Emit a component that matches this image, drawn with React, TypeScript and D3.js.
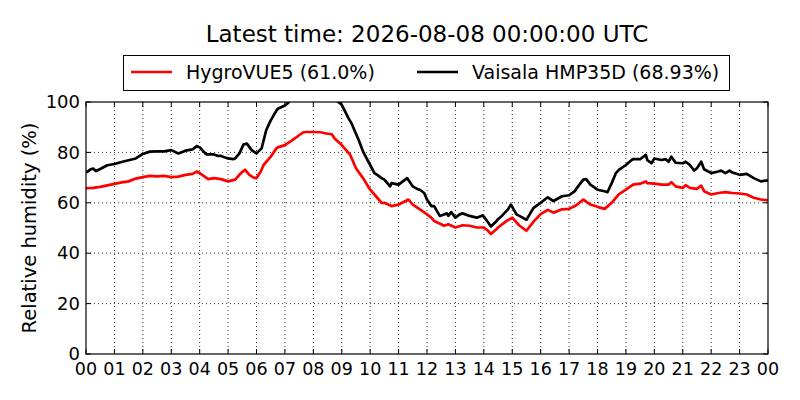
import React, { useEffect, useRef } from 'react';
import * as d3 from 'd3';

// [hour of day, relative humidity %]
const hygroVUE5: [number, number][] = [
  [0, 65.8], [0.25, 65.9], [0.5, 66.3], [0.75, 66.9], [1, 67.5], [1.25, 68.1], [1.5, 68.5],
  [1.75, 69.6], [2, 70.2], [2.25, 70.7], [2.5, 70.5], [2.75, 70.7], [3, 70.2], [3.25, 70.4],
  [3.5, 71.1], [3.75, 71.5], [3.9, 72.4], [4, 71.8], [4.2, 70.2], [4.3, 69.4], [4.5, 69.8],
  [4.75, 69.4], [5, 68.5], [5.25, 69.2], [5.45, 71.8], [5.6, 73.1], [5.75, 71.1], [5.9, 70.0],
  [6, 69.8], [6.15, 72.4], [6.25, 75.0], [6.5, 78.3], [6.7, 81.6], [6.75, 82.0], [7, 82.9],
  [7.25, 84.8], [7.5, 86.8], [7.65, 88.0], [7.75, 88.1], [8, 88.1], [8.25, 88.0], [8.5, 87.4],
  [8.65, 87.2], [8.75, 85.5], [9, 82.9], [9.2, 80.3], [9.3, 79.0], [9.5, 73.7], [9.75, 69.8],
  [10, 65.2], [10.25, 62.0], [10.4, 60.0], [10.5, 60.0], [10.75, 58.7], [11, 59.3], [11.25, 60.7],
  [11.35, 61.3], [11.5, 59.3], [11.75, 57.4], [12, 55.4], [12.15, 54.1], [12.25, 52.8],
  [12.5, 51.5], [12.6, 50.9], [12.75, 51.5], [13, 50.2], [13.25, 51.1], [13.5, 50.9],
  [13.75, 50.2], [14, 50.2], [14.15, 48.9], [14.25, 47.6], [14.45, 49.6], [14.5, 50.2],
  [14.8, 52.8], [15, 54.1], [15.25, 51.0], [15.5, 48.9], [15.75, 52.5], [16, 55.5],
  [16.25, 57.2], [16.45, 56.1], [16.5, 56.3], [16.75, 57.4], [17, 57.6], [17.25, 59.0],
  [17.5, 61.3], [17.75, 59.3], [18, 58.4], [18.25, 57.6], [18.5, 60.0], [18.75, 63.3],
  [19, 65.2], [19.25, 67.2], [19.5, 67.6], [19.7, 68.5], [19.75, 67.8], [20, 67.6],
  [20.25, 67.2], [20.5, 67.2], [20.6, 68.2], [20.75, 66.5], [21, 65.9], [21.1, 67.0],
  [21.25, 65.9], [21.5, 65.5], [21.65, 66.8], [21.75, 64.6], [22, 63.3], [22.25, 63.9],
  [22.5, 64.2], [22.75, 63.9], [23, 63.7], [23.25, 63.3], [23.5, 62.0], [23.75, 61.3], [24, 61.0],
];

const hmp35d: [number, number][] = [
  [0, 72.0], [0.15, 73.2], [0.25, 73.6], [0.35, 72.6], [0.5, 73.4], [0.7, 74.6], [0.75, 74.9],
  [1, 75.4], [1.25, 76.2], [1.5, 76.9], [1.75, 77.6], [2, 79.4], [2.25, 80.3], [2.5, 80.4],
  [2.75, 80.4], [3, 80.9], [3.25, 79.6], [3.5, 80.7], [3.75, 81.2], [3.9, 82.5], [4, 82.0],
  [4.2, 79.6], [4.25, 79.2], [4.5, 79.2], [4.65, 78.6], [4.75, 78.6], [5, 77.6], [5.18, 77.3],
  [5.25, 77.6], [5.4, 79.6], [5.54, 83.1], [5.66, 83.5], [5.83, 80.9], [6, 79.6], [6.18, 81.6],
  [6.34, 88.8], [6.5, 92.7], [6.7, 96.6], [6.75, 97.3], [7, 98.6], [7.1, 99.5], [7.25, 101.5],
  [7.5, 103], [7.75, 104], [8, 104], [8.25, 104], [8.5, 103], [8.75, 101.5], [8.88, 100],
  [9, 98.9], [9.25, 93.3], [9.35, 91.4], [9.5, 87.4], [9.6, 84.8], [9.75, 80.3], [10, 75.0],
  [10.15, 71.8], [10.25, 71.1], [10.4, 69.8], [10.5, 69.2], [10.7, 66.5], [10.75, 67.8],
  [11, 67.2], [11.15, 68.5], [11.3, 69.8], [11.5, 66.5], [11.7, 65.2], [11.75, 65.2],
  [11.9, 63.9], [12, 61.3], [12.15, 58.7], [12.25, 58.7], [12.45, 54.8], [12.5, 55.0],
  [12.7, 55.8], [12.75, 54.8], [12.85, 56.3], [13, 54.1], [13.15, 55.4], [13.25, 55.8],
  [13.5, 54.8], [13.75, 54.1], [13.95, 55.0], [14, 54.5], [14.15, 52.2], [14.25, 50.6],
  [14.45, 52.8], [14.5, 53.5], [14.65, 55.0], [14.85, 57.4], [14.95, 59.3], [15, 58.4],
  [15.15, 55.4], [15.25, 54.8], [15.5, 53.3], [15.75, 58.0], [16, 60.0], [16.25, 62.2],
  [16.45, 60.7], [16.5, 61.0], [16.75, 62.6], [17, 63.0], [17.2, 64.6], [17.25, 65.5],
  [17.5, 69.2], [17.6, 69.4], [17.75, 67.2], [18, 65.2], [18.25, 64.6], [18.35, 64.2],
  [18.5, 67.8], [18.65, 71.8], [18.75, 73.1], [19, 75.0], [19.2, 77.0], [19.25, 77.3],
  [19.5, 77.3], [19.7, 79.0], [19.75, 77.0], [19.9, 75.7], [20, 77.6], [20.25, 77.0],
  [20.4, 77.3], [20.5, 76.3], [20.6, 78.3], [20.75, 75.9], [21, 75.7], [21.1, 76.3],
  [21.25, 75.0], [21.4, 72.8], [21.5, 73.7], [21.65, 76.3], [21.75, 73.3], [22, 71.8],
  [22.25, 72.4], [22.35, 72.8], [22.5, 71.8], [22.65, 72.8], [22.75, 72.0], [23, 71.1],
  [23.25, 71.5], [23.5, 69.8], [23.75, 68.5], [24, 68.9],
];

const hourTicks = d3.range(0, 25);
const rhTicks = [0, 20, 40, 60, 80, 100];

const series = [
  { name: 'HygroVUE5 (61.0%)', color: '#ff0000', data: hygroVUE5 },
  { name: 'Vaisala HMP35D (68.93%)', color: '#000000', data: hmp35d },
];

const title = 'Latest time: 2026-08-08 00:00:00 UTC';

export default function App() {
  const ref = useRef<SVGSVGElement>(null);

  useEffect(() => {
    document.body.style.margin = '0';
    if (!ref.current) return;
    const svg = d3.select(ref.current);
    svg.selectAll('*').remove();

    const left = 86, right = 768, top = 102, bottom = 354;
    const font = 'DejaVu Sans';

    const x = d3.scaleLinear().domain([0, 24]).range([left, right]);
    const y = d3.scaleLinear().domain([0, 100]).range([bottom, top]);

    svg.append('rect').attr('width', 800).attr('height', 400).attr('fill', 'white');

    svg.append('clipPath').attr('id', 'plot-clip')
      .append('rect')
      .attr('x', left).attr('y', top)
      .attr('width', right - left).attr('height', bottom - top);

    // dotted grid
    const grid = svg.append('g')
      .attr('stroke', 'black').attr('stroke-width', 0.8)
      .attr('stroke-dasharray', '1,3');
    grid.selectAll('line.v').data(hourTicks.slice(1, -1)).enter().append('line')
      .attr('x1', d => x(d)).attr('x2', d => x(d))
      .attr('y1', top).attr('y2', bottom);
    grid.selectAll('line.h').data(rhTicks.slice(1, -1)).enter().append('line')
      .attr('x1', left).attr('x2', right)
      .attr('y1', d => y(d)).attr('y2', d => y(d));

    // series
    const line = d3.line<[number, number]>()
      .x(d => x(d[0]))
      .y(d => y(d[1]));

    const plot = svg.append('g').attr('clip-path', 'url(#plot-clip)');
    series.forEach(s => {
      plot.append('path')
        .datum(s.data)
        .attr('d', line)
        .attr('fill', 'none')
        .attr('stroke', s.color)
        .attr('stroke-width', 2.7)
        .attr('stroke-linejoin', 'round');
    });

    // frame
    svg.append('rect')
      .attr('x', left).attr('y', top)
      .attr('width', right - left).attr('height', bottom - top)
      .attr('fill', 'none').attr('stroke', 'black').attr('stroke-width', 1.2);

    // inward ticks on all sides
    const ticks = svg.append('g').attr('stroke', 'black').attr('stroke-width', 1);
    hourTicks.forEach(h => {
      ticks.append('line').attr('x1', x(h)).attr('x2', x(h)).attr('y1', bottom).attr('y2', bottom - 5);
      ticks.append('line').attr('x1', x(h)).attr('x2', x(h)).attr('y1', top).attr('y2', top + 5);
    });
    rhTicks.forEach(v => {
      ticks.append('line').attr('x1', left).attr('x2', left + 5).attr('y1', y(v)).attr('y2', y(v));
      ticks.append('line').attr('x1', right).attr('x2', right - 5).attr('y1', y(v)).attr('y2', y(v));
    });

    // tick labels
    svg.append('g').selectAll('text').data(hourTicks).enter().append('text')
      .attr('x', d => x(d)).attr('y', 375)
      .attr('text-anchor', 'middle')
      .attr('font-family', font).attr('font-size', 17.5)
      .text(d => String(d % 24).padStart(2, '0'));

    svg.append('g').selectAll('text').data(rhTicks).enter().append('text')
      .attr('x', left - 6).attr('y', d => y(d))
      .attr('dy', '0.34em')
      .attr('text-anchor', 'end')
      .attr('font-family', font).attr('font-size', 18)
      .text(d => d);

    // y label
    svg.append('text')
      .attr('transform', `translate(36, ${(top + bottom) / 2}) rotate(-90)`)
      .attr('text-anchor', 'middle')
      .attr('font-family', font).attr('font-size', 19.5)
      .text('Relative humidity (%)');

    // title
    svg.append('text')
      .attr('x', (left + right) / 2).attr('y', 42)
      .attr('text-anchor', 'middle')
      .attr('font-family', font).attr('font-size', 23)
      .text(title);

    // legend
    const legend = svg.append('g');
    legend.append('rect')
      .attr('x', 123.5).attr('y', 55.5).attr('width', 606).attr('height', 35)
      .attr('fill', 'white').attr('stroke', 'black').attr('stroke-width', 1);
    const legendX = [131, 417];
    series.forEach((s, i) => {
      legend.append('line')
        .attr('x1', legendX[i]).attr('x2', legendX[i] + 41)
        .attr('y1', 72).attr('y2', 72)
        .attr('stroke', s.color).attr('stroke-width', 2.7);
      legend.append('text')
        .attr('x', legendX[i] + 55).attr('y', 72).attr('dy', '0.36em')
        .attr('font-family', font).attr('font-size', 19)
        .text(s.name);
    });
  }, []);

  return <svg ref={ref} width={800} height={400} style={{ display: 'block' }} />;
}
